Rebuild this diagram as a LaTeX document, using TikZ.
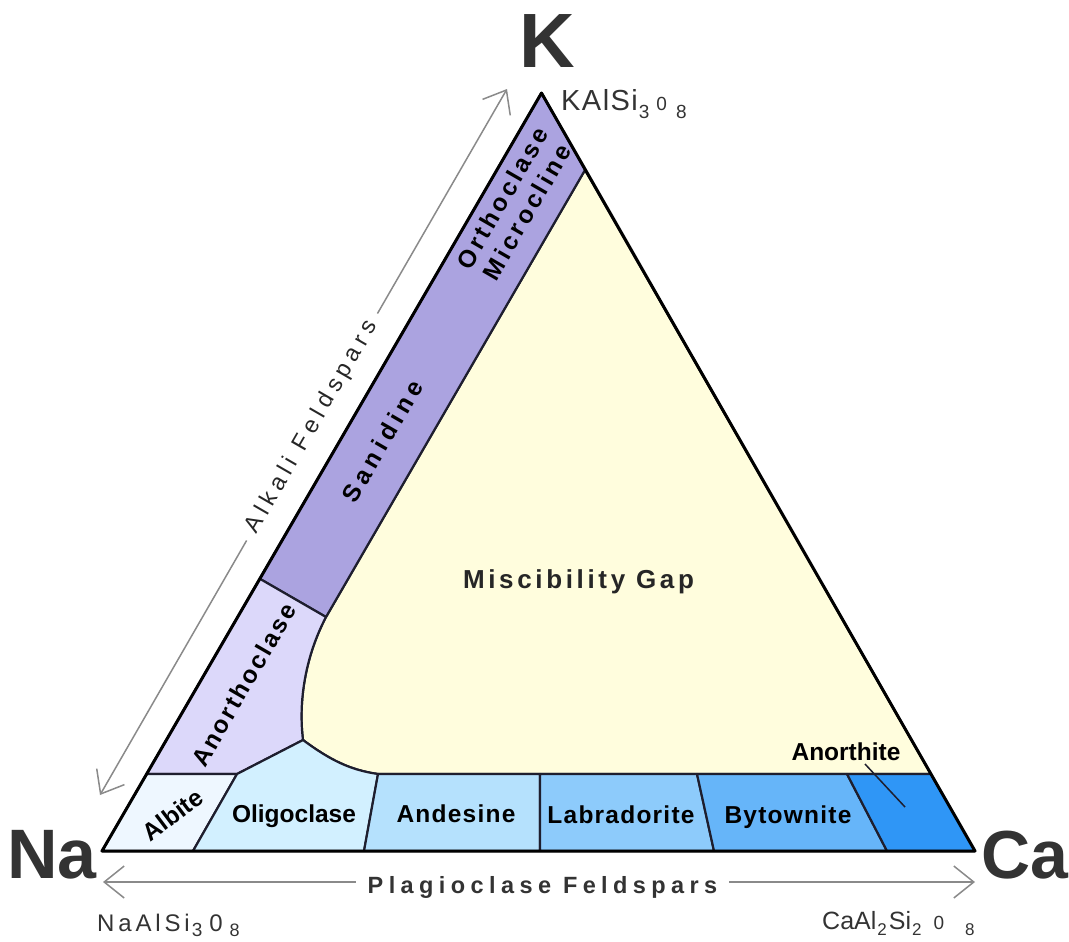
\documentclass[tikz,border=0pt]{standalone}
\usepackage{fontspec}
\setmainfont{Liberation Sans}
\newfontfamily\fa[LetterSpace=5]{Liberation Sans}
\newfontfamily\fb[LetterSpace=14]{Liberation Sans}
\newfontfamily\fc[LetterSpace=20]{Liberation Sans}
\newfontfamily\fd[LetterSpace=23]{Liberation Sans}
\newfontfamily\fe[LetterSpace=10]{Liberation Sans}
\newfontfamily\ff[LetterSpace=16]{Liberation Sans}
\usetikzlibrary{arrows.meta}
\definecolor{purp}{HTML}{ABA3E0}
\definecolor{anorthocl}{HTML}{DCD8FA}
\definecolor{albite}{HTML}{EEF7FF}
\definecolor{oligo}{HTML}{D2F0FF}
\definecolor{andes}{HTML}{B5E1FD}
\definecolor{labra}{HTML}{8DCBFB}
\definecolor{bytow}{HTML}{66B5F9}
\definecolor{anort}{HTML}{2F96F6}
\definecolor{misc}{HTML}{FFFDDD}
\definecolor{edge}{HTML}{1E1E2E}
\definecolor{axisgray}{HTML}{8A8A8A}
\definecolor{dark}{HTML}{333333}
\newcommand{\fsub}[3][17bp]{\raisebox{-#2}{\fontsize{#1}{#1}\selectfont #3}}
\tikzset{
  region/.style={draw=edge, line width=2.2bp, line join=round},
  lab/.style={font=#1\bfseries\fontsize{24.5bp}{28bp}\selectfont, text=black, inner sep=0pt},
  lab/.default=\fa,
  axisline/.style={draw=axisgray, line width=1.5bp},
  headarrow/.style={-{Straight Barb[length=20bp,width=32bp]}},
  bigletter/.style={font=\bfseries\fontsize{#1}{#1}\selectfont, text=dark, inner sep=0pt},
  formula/.style={text=dark, inner sep=0pt, anchor=base west},
}
\begin{document}
\begin{tikzpicture}[x=1bp,y=-1bp]
\useasboundingbox (0,0) rectangle (1069,942);
% vertices and region points
\coordinate (K) at (541.5,93);
\coordinate (Na) at (102,851);
\coordinate (Ca) at (975,851);
\coordinate (P1) at (585,170);
\coordinate (P2) at (326,617);
\coordinate (P3) at (259.7,578.7);
\coordinate (Q) at (303,740);
\coordinate (R) at (237,774);
\coordinate (L1) at (146.6,774);
\coordinate (B1) at (193,851);
\coordinate (T2) at (378,774);
\coordinate (B2) at (364,851);
\coordinate (T3) at (540,774);
\coordinate (B3) at (540,851);
\coordinate (T4) at (697,774);
\coordinate (B4) at (714,851);
\coordinate (T5) at (847,774);
\coordinate (B5) at (887,851);
\coordinate (T6) at (930.9,774);
% regions
\path[region, fill=misc] (P1) -- (T6) -- (T2) .. controls (350,770) and (330,760) .. (Q)
   .. controls (298,700) and (306,655) .. (P2) -- cycle;
\path[region, fill=purp] (K) -- (P1) -- (P2) -- (P3) -- cycle;
\path[region, fill=anorthocl] (P3) -- (P2) .. controls (306,655) and (298,700) .. (Q) -- (R) -- (L1) -- cycle;
\path[region, fill=albite] (L1) -- (R) -- (B1) -- (Na) -- cycle;
\path[region, fill=oligo] (R) -- (Q) .. controls (330,760) and (350,770) .. (T2) -- (B2) -- (B1) -- cycle;
\path[region, fill=andes] (T2) -- (T3) -- (B3) -- (B2) -- cycle;
\path[region, fill=labra] (T3) -- (T4) -- (B4) -- (B3) -- cycle;
\path[region, fill=bytow] (T4) -- (T5) -- (B5) -- (B4) -- cycle;
\path[region, fill=anort] (T5) -- (T6) -- (Ca) -- (B5) -- cycle;
\draw[black, line width=3bp, line join=round] (K) -- (Na) -- (Ca) -- cycle;
% region labels
\node[lab=\fb, rotate=60, align=center] (ortho) at (514.5,205) {Orthoclase\\Microcline};
\node[lab=\fc, rotate=60] (sanid) at (382.5,441) {Sanidine};
\node[lab=\fe, rotate=60] (anorthoclase) at (243.5,685) {Anorthoclase};
\node[lab=\rmfamily, rotate=37] (albitel) at (172.5,815) {Albite};
\node[lab=\rmfamily, anchor=base] (oligol) at (294,822.5) {Oligoclase};
\node[lab, anchor=base] (andesl) at (456,822) {Andesine};
\node[lab, anchor=base] (labral) at (621,823) {Labradorite};
\node[lab, anchor=base] (bytowl) at (788,823) {Bytownite};
\node[lab=\rmfamily, anchor=base] (anortl) at (846,760) {Anorthite};
\node[font=\fb\bfseries\fontsize{26bp}{28bp}\selectfont, text=black!85, anchor=base, inner sep=0pt] (miscl) at (578.5,588) {Miscibility Gap};
% anorthite leader
\coordinate (ld1) at (865,764);
\coordinate (ld2) at (905,807);
\draw[edge, line width=1.5bp] (ld1) -- (ld2);
% corner letters
\node[bigletter=77bp, anchor=base] (Kl) at (547,67) {K};
\node[bigletter=70bp, anchor=base west] (Nal) at (7,878) {Na};
\node[bigletter=68bp, anchor=base west] (Cal) at (981,878) {Ca};
% formulas
\node[formula] (fK) at (561,110) {\fa\fontsize{29bp}{29bp}\selectfont KAlSi\hspace{1bp}\fsub[19bp]{8bp}{3}\hspace{7bp}{\fontsize{19bp}{19bp}\selectfont 0}\hspace{9bp}\fsub[19bp]{8bp}{8}};
\node[formula] (fNa) at (97,931) {\ff\fontsize{24bp}{24bp}\selectfont NaAlSi\hspace{2bp}\fsub[19bp]{5bp}{3}\hspace{7bp}0\hspace{7bp}\fsub[18bp]{5bp}{8}};
\node[formula] (fCa) at (822,929) {\fontsize{25bp}{25bp}\selectfont CaAl\hspace{1bp}\fsub{6bp}{2}\hspace{2bp}Si\hspace{1bp}\fsub{6bp}{2}\hspace{12bp}{\fontsize{19bp}{19bp}\selectfont 0}\hspace{21bp}\fsub{6bp}{8}};
% axes
\coordinate (aL) at (100,795);
\coordinate (aK) at (507,89);
\node[font=\fd\fontsize{23.5bp}{26bp}\selectfont, text=black!85, rotate=60, inner xsep=10bp, inner ysep=0pt] (alk) at (312,427) {Alkali Feldspars};
\draw[axisline, headarrow] (alk) -- (aL);
\draw[axisline, headarrow] (alk) -- (aK);
\coordinate (pL) at (103,882);
\coordinate (pR) at (975,882);
\node[font=\fd\bfseries\fontsize{23.5bp}{26bp}\selectfont, text=dark, anchor=base, inner xsep=12bp, inner ysep=0pt] (plag) at (542.5,893) {Plagioclase Feldspars};
\draw[axisline, headarrow] (pL -| plag.west) -- (pL);
\draw[axisline, headarrow] (pR -| plag.east) -- (pR);
\end{tikzpicture}
\end{document}
